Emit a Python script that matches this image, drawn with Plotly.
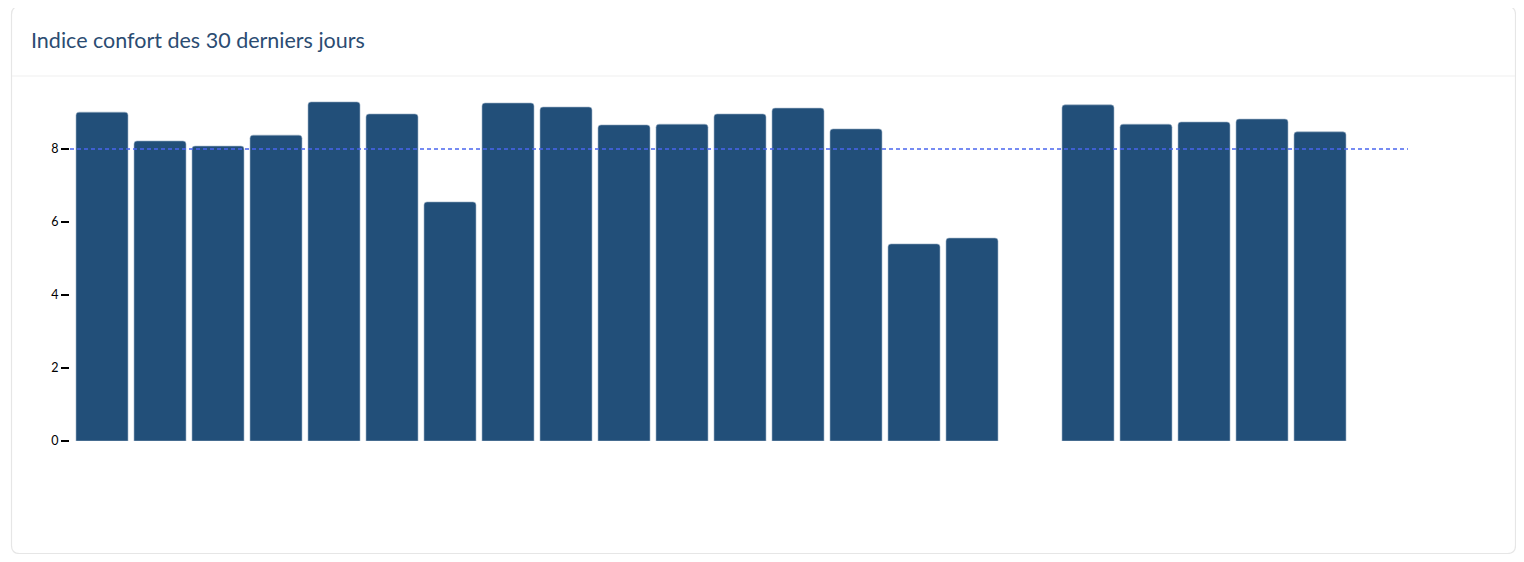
import plotly.graph_objects as go

days = [f"J{i}" for i in range(1, 24)]
confort = [9.01, 8.22, 8.08, 8.38, 9.29, 8.96, 6.55, 9.26, 9.15, 8.66, 8.68, 8.96,
           9.12, 8.55, 5.40, 5.56, None, 9.21, 8.68, 8.74, 8.82, 8.47, None]
seuil = 8
y_ticks = [0, 2, 4, 6, 8]

# page body has an 8px margin: work in reference pixel coords minus 8
OFF = 8
W, H = 1524 - 2 * OFF, 562 - 2 * OFF
L, R, T, B = 70 - OFF, 1408 - OFF, 86 - OFF, 441 - OFF
STEP = 58.0  # px per category slot

def px(x):
    return (x - OFF - L) / (R - L)

def py(y):
    return (B - (y - OFF)) / (B - T)

x_start = -0.5 - 3 / STEP
x_end = x_start + (R - L) / STEP

fig = go.Figure()
fig.add_trace(go.Bar(
    x=days, y=confort,
    marker=dict(color="#224f79", line=dict(color="#9fb3c8", width=0.6), cornerradius=3),
    hoverinfo="y",
))

# card outline with rounded corners (reference pixel coords)
x0, x1, y0, y1, r = 11.5, 1515.5, 6.5, 553.5, 8
path = (f"M {px(x0 + r)},{py(y0)} L {px(x1 - r)},{py(y0)} "
        f"Q {px(x1)},{py(y0)} {px(x1)},{py(y0 + r)} "
        f"L {px(x1)},{py(y1 - r)} Q {px(x1)},{py(y1)} {px(x1 - r)},{py(y1)} "
        f"L {px(x0 + r)},{py(y1)} Q {px(x0)},{py(y1)} {px(x0)},{py(y1 - r)} "
        f"L {px(x0)},{py(y0 + r)} Q {px(x0)},{py(y0)} {px(x0 + r)},{py(y0)} Z")

fig.update_layout(
    width=W, height=H,
    margin=dict(l=L, r=W - R, t=T, b=H - B),
    paper_bgcolor="white", plot_bgcolor="white",
    showlegend=False,
    bargap=6 / STEP,
    xaxis=dict(range=[x_start, x_end], showticklabels=False, showgrid=False,
               zeroline=False, showline=False, ticks=""),
    yaxis=dict(range=[0, (B - T) / 36.5], tickvals=y_ticks, showgrid=False, zeroline=False,
               showline=False, ticks="outside", ticklen=8, tickwidth=1.5, tickcolor="black",
               tickfont=dict(family="Lato, sans-serif", size=12.5, color="black")),
    shapes=[
        dict(type="path", xref="paper", yref="paper", path=path,
             line=dict(color="#e6e6e6", width=1.2), fillcolor="rgba(0,0,0,0)", layer="below"),
        dict(type="line", xref="paper", yref="paper", x0=px(12), x1=px(1515), y0=py(76), y1=py(76),
             line=dict(color="#f0f0f0", width=1.2), layer="below"),
        dict(type="line", xref="x domain", yref="y", x0=0, x1=1, y0=seuil, y1=seuil,
             line=dict(color="#4a66ee", width=1.6, dash="4px,3px"), layer="above"),
    ],
    annotations=[
        dict(text="Indice confort des 30 derniers jours", xref="paper", yref="paper",
             x=px(29), y=py(40), xanchor="left", yanchor="middle", showarrow=False,
             font=dict(family="Lato, sans-serif", size=21.5, color="#2b4c72")),
    ],
)

fig.write_html("out.html")
